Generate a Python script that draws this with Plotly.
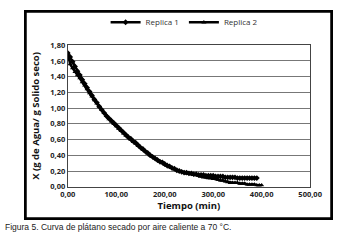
import plotly.graph_objects as go

time_r1 = [0, 5, 10, 15, 20, 25, 30, 35, 40, 45, 50, 55, 60, 65, 70, 75, 80, 85, 90, 95,
           100, 105, 110, 115, 120, 125, 130, 135, 140, 145, 150, 155, 160, 165, 170, 175, 180, 185, 190, 195,
           200, 205, 210, 215, 220, 225, 230, 235, 240, 245, 250, 255, 260, 265, 270, 275, 280, 285, 290, 295,
           300, 305, 310, 315, 320, 325, 330, 335, 340, 345, 350, 355, 360, 365, 370, 375, 380, 385, 390]
x_r1 = [1.70, 1.65, 1.59, 1.53, 1.47, 1.42, 1.36, 1.31, 1.26, 1.21, 1.16, 1.11, 1.07, 1.02, 0.98, 0.94, 0.90, 0.87, 0.84, 0.81,
        0.78, 0.75, 0.72, 0.69, 0.66, 0.63, 0.61, 0.58, 0.56, 0.53, 0.50, 0.48, 0.45, 0.43, 0.40, 0.38, 0.36, 0.34, 0.32, 0.31,
        0.29, 0.27, 0.26, 0.24, 0.23, 0.21, 0.20, 0.19, 0.18, 0.18, 0.17, 0.17, 0.16, 0.16, 0.15, 0.15, 0.15, 0.14, 0.14, 0.14,
        0.14, 0.13, 0.13, 0.13, 0.13, 0.12, 0.12, 0.12, 0.12, 0.12, 0.11, 0.11, 0.11, 0.11, 0.11, 0.11, 0.11, 0.11, 0.11]

time_r2 = [0, 5, 10, 15, 20, 25, 30, 35, 40, 45, 50, 55, 60, 65, 70, 75, 80, 85, 90, 95,
           100, 105, 110, 115, 120, 125, 130, 135, 140, 145, 150, 155, 160, 165, 170, 175, 180, 185, 190, 195,
           200, 205, 210, 215, 220, 225, 230, 235, 240, 245, 250, 255, 260, 265, 270, 275, 280, 285, 290, 295,
           300, 305, 310, 315, 320, 325, 330, 335, 340, 345, 350, 355, 360, 365, 370, 375, 380, 385, 390, 395, 400]
x_r2 = [1.70, 1.56, 1.51, 1.46, 1.42, 1.38, 1.33, 1.29, 1.24, 1.19, 1.15, 1.10, 1.06, 1.02, 0.98, 0.94, 0.90, 0.86, 0.83, 0.80,
        0.77, 0.74, 0.71, 0.68, 0.65, 0.63, 0.60, 0.57, 0.55, 0.52, 0.50, 0.47, 0.45, 0.42, 0.40, 0.38, 0.36, 0.34, 0.32, 0.30,
        0.28, 0.27, 0.25, 0.24, 0.22, 0.21, 0.20, 0.19, 0.18, 0.17, 0.17, 0.16, 0.15, 0.15, 0.14, 0.13, 0.12, 0.12, 0.11, 0.11,
        0.10, 0.10, 0.09, 0.08, 0.08, 0.07, 0.06, 0.05, 0.05, 0.05, 0.05, 0.04, 0.04, 0.04, 0.03, 0.03, 0.03, 0.03, 0.02, 0.02, 0.02]

series_names = ["Replica 1", "Replica 2"]
x_ticks = [0, 100, 200, 300, 400, 500]
y_ticks = [0, 0.2, 0.4, 0.6, 0.8, 1.0, 1.2, 1.4, 1.6, 1.8]

fig = go.Figure()
fig.add_trace(go.Scatter(x=time_r1, y=x_r1, name=series_names[0], mode="lines+markers",
                         line=dict(color="black", width=2.5),
                         marker=dict(symbol="diamond", size=4.5, color="black")))
fig.add_trace(go.Scatter(x=time_r2, y=x_r2, name=series_names[1], mode="lines+markers",
                         line=dict(color="black", width=2.5),
                         marker=dict(symbol="triangle-up", size=4.5, color="black")))
# empty trace on the frame axes (outer chart border)
fig.add_trace(go.Scatter(x=[], y=[], xaxis="x2", yaxis="y2", showlegend=False, hoverinfo="skip"))

tickfont = dict(family="Open Sans", size=7.5, color="#222222", weight="bold")
fig.update_layout(
    width=350, height=240,
    margin=dict(l=26, r=17, t=7, b=22),
    paper_bgcolor="white", plot_bgcolor="rgba(0,0,0,0)",
    separators=",.",
    showlegend=True,
    legend=dict(orientation="h", x=0.52, xanchor="center", y=0.95, yanchor="middle",
                font=dict(family="Open Sans", size=8, color="#333333"),
                itemwidth=30, tracegroupgap=0, bgcolor="rgba(0,0,0,0)"),
    xaxis=dict(domain=[0.1368, 0.9316], anchor="y", range=[0, 500], tickvals=x_ticks, tickformat=".2f",
               tickfont=tickfont, showgrid=False, zeroline=False, showline=True, linecolor="#444444",
               linewidth=1, mirror=True, ticks="",
               title=dict(text="<b>Tiempo (min)</b>", font=dict(family="Open Sans", size=9.5, color="#111111"),
                          standoff=4)),
    yaxis=dict(domain=[0.1517, 0.8389], anchor="x", range=[0, 1.8], tickvals=y_ticks, tickformat=".2f",
               tickfont=tickfont, showgrid=True, gridcolor="#777777", gridwidth=1, zeroline=False,
               showline=True, linecolor="#444444", linewidth=1, mirror=True, ticks="",
               title=dict(text="<b>X (g de Agua/ g Solido seco)</b>",
                          font=dict(family="Open Sans", size=9.5, color="#111111"), standoff=8)),
    xaxis2=dict(domain=[0, 1], anchor="y2", range=[0, 1], showline=True, mirror=True, linecolor="#000000",
                linewidth=1.5, showgrid=False, zeroline=False, showticklabels=False, ticks=""),
    yaxis2=dict(domain=[0, 1], anchor="x2", range=[0, 1], showline=True, mirror=True, linecolor="#000000",
                linewidth=1.5, showgrid=False, zeroline=False, showticklabels=False, ticks=""),
    shapes=[dict(type="rect", xref="paper", yref="paper", x0=0, x1=1, y0=0, y1=1,
                 line=dict(color="#000000", width=1.5), layer="above")],
)

fig.add_annotation(text="Figura 5. Curva de plátano secado por aire caliente a 70 °C.",
                   xref="paper", yref="paper", x=-0.075, y=-0.043, xanchor="left", yanchor="middle",
                   showarrow=False, font=dict(family="Liberation Sans", size=8.5, color="#222222"))

fig.write_html("out.html", config={"displayModeBar": False},
               post_script="document.body.style.margin='0';")
